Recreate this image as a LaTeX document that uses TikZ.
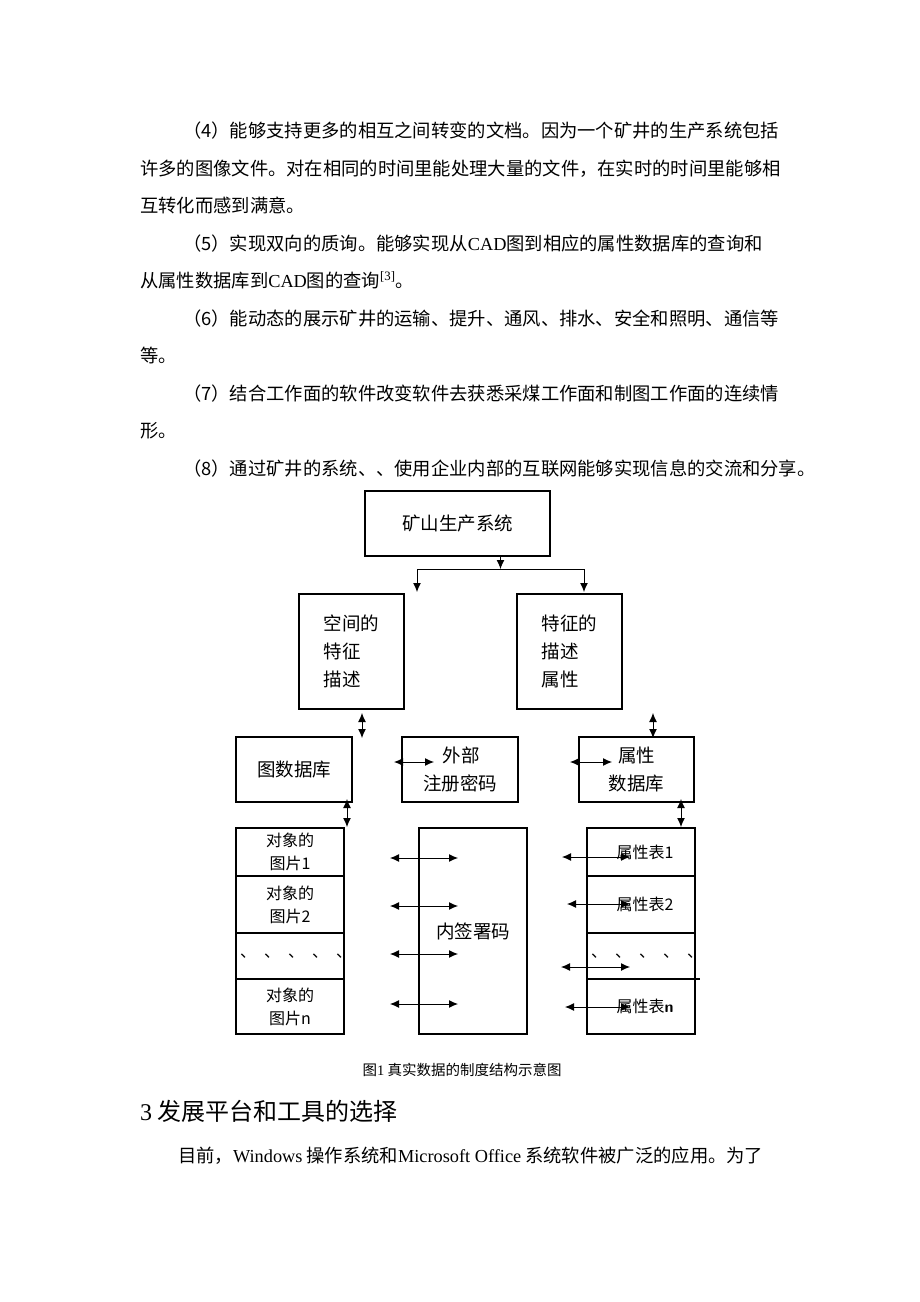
\documentclass[tikz,border=0pt]{standalone}
\usepackage{fontspec}
\setmainfont{Liberation Serif}
\newfontfamily\cjk{Noto Sans CJK SC}
\newfontfamily\latf{Liberation Serif}
\usetikzlibrary{arrows.meta, positioning}
\tikzset{
    bodyline/.style={anchor=base west, inner sep=0pt,
        font=\fontsize{18.3}{20}\cjk},
    box/.style={draw, line width=2.2pt, inner sep=0pt, outer sep=0pt,
        align=center, font=\fontsize{18.5}{28}\selectfont\cjk},
    cell/.style={box, minimum width=108pt, text width=100pt,
        font=\fontsize{16}{23}\selectfont\cjk},
    conn/.style={line width=1pt, -{Latex[length=9pt,width=8pt]}},
    dconn/.style={line width=1pt, {Latex[length=9pt,width=8pt]}-{Latex[length=9pt,width=8pt]}},
}
\newcommand{\lat}[1]{{\latf #1}}
\begin{document}
\begin{tikzpicture}[x=1pt,y=-1pt]
            \useasboundingbox[fill=white] (0,0) rectangle (920,1302);
            % Text above the figure
            \node[bodyline] (p1a) at (183,137) {（4）能够支持更多的相互之间转变的文档。因为一个矿井的生产系统包括};
            \node[bodyline] (p1b) at (140,175) {许多的图像文件。对在相同的时间里能处理大量的文件，在实时的时间里能够相};
            \node[bodyline] (p1c) at (140,212) {互转化而感到满意。};
            \node[bodyline] (p2a) at (183,250) {（5）实现双向的质询。能够实现从\lat{CAD}图到相应的属性数据库的查询和};
            \node[bodyline] (p2b) at (140,287) {从属性数据库到\lat{CAD}图的查询\textsuperscript{\lat{[3]}}。};
            \node[bodyline] (p3a) at (183,325) {（6）能动态的展示矿井的运输、提升、通风、排水、安全和照明、通信等};
            \node[bodyline] (p3b) at (140,362) {等。};
            \node[bodyline] (p4a) at (183,400) {（7）结合工作面的软件改变软件去获悉采煤工作面和制图工作面的连续情};
            \node[bodyline] (p4b) at (140,437) {形。};
            \node[bodyline] (p5a) at (183,475) {（8）通过矿井的系统、、使用企业内部的互联网能够实现信息的交流和分享。};

            % Top levels
            \node[box, minimum width=185pt, minimum height=65pt] (mine) at (457.5,523.5) {矿山生产系统};
            \node[box, minimum width=105pt, minimum height=115pt, align=left] (spat) at (351.5,651.5) {空间的\\特征\\描述};
            \node[box, minimum width=105pt, minimum height=115pt, align=left] (attr) at (569.5,651.5) {特征的\\描述\\属性};
            \coordinate (split) at (500.5,569);
            \coordinate (splitl) at (417,569);
            \coordinate (splitr) at (584,569);
            \draw[conn] (mine.south -| split) -- (split);
            \draw (splitl) -- (splitr);
            \draw[conn] (splitl) -- ++(0,23);
            \draw[conn] (splitr) -- ++(0,23);

            % Middle row
            \node[box, minimum width=116pt, minimum height=65pt] (mapdb) at (294,769.5) {图数据库};
            \node[box, minimum width=116pt, minimum height=65pt] (reg) at (460,769.5) {\hspace*{2pt}外部\\注册密码};
            \node[box, minimum width=115pt, minimum height=65pt] (attrdb) at (636.5,769.5) {属性\\数据库};
            \draw[dconn] (362,713) -- (362,738);
            \draw[dconn] (653,713) -- (653,738);
            \draw[dconn] (394,762) -- (434,762);
            \draw[dconn] (570,762) -- (612,762);

            % Bottom columns
            \node[cell, minimum height=48pt] (pic1) at (290,852) {对象的\\图片1};
            \node[cell, minimum height=57pt, below=0pt of pic1] (pic2) {对象的\\图片2};
            \node[cell, minimum height=46pt, below=0pt of pic2] (picd) {、\enspace、\enspace、\enspace、\enspace、};
            \node[cell, minimum height=55pt, below=0pt of picd] (picn) {对象的\\图片n};
            \node[box, minimum width=108pt, minimum height=206pt] (sign) at (473,931) {\raisebox{-10pt}{内签署码}};
            \node[cell, minimum height=48pt] (tab1) at (641,852) {\hspace*{8pt}属性表1};
            \node[cell, minimum height=57pt, below=0pt of tab1] (tab2) {\hspace*{8pt}属性表2};
            \node[cell, minimum height=46pt, below=0pt of tab2] (tabd) {、\enspace、\enspace、\enspace、\enspace、};
            \node[cell, minimum height=55pt, below=0pt of tabd] (tabn) {\hspace*{8pt}属性表{\sffamily\bfseries n}};
            \draw[line width=2.2pt] (tabd.south west) -- ++(113,0);
            \draw[dconn] (347,799) -- (347,827);
            \draw[dconn] (681,799) -- (681,827);
            \foreach \y in {858,906,954,1004}
                \draw[dconn] (390,\y) -- (458,\y);
            \foreach \y/\a in {857/562,904/567,967/561,1007/565}
                \draw[dconn] (\a,\y) -- (630,\y);

            % Caption, heading and text below
            \node[anchor=base, inner sep=0pt, font=\fontsize{14.5}{15}\cjk] (cap) at (462,1075) {图\lat{1} 真实数据的制度结构示意图};
            \node[anchor=base west, inner sep=0pt, font=\fontsize{24}{26}\cjk] (head) at (140,1120) {\lat{3} 发展平台和工具的选择};
            \node[bodyline] (p6a) at (178,1162) {目前，\lat{Windows} 操作系统和\lat{Microsoft Office} 系统软件被广泛的应用。为了};
        \end{tikzpicture}
\end{document}
